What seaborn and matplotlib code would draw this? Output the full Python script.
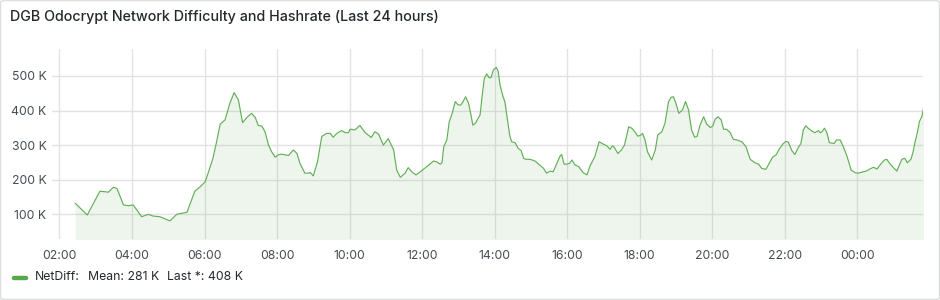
import matplotlib
matplotlib.use("Agg")
import matplotlib.pyplot as plt
import matplotlib.dates as mdates
from matplotlib.patches import FancyBboxPatch
from matplotlib.ticker import FuncFormatter, FixedLocator
import seaborn as sns
import pandas as pd
import numpy as np

title = "DGB Odocrypt Network Difficulty and Hashrate (Last 24 hours)"
series_name = "NetDiff"
legend_mean = "281 K"
legend_last = "408 K"

times = [
    "02:26", "02:46", "03:07", "03:21", "03:29", "03:35", "03:46", "03:54", "04:02", "04:16",
    "04:27", "04:35", "04:46", "05:03", "05:14", "05:31", "05:44", "05:53", "06:01", "06:06",
    "06:14", "06:20", "06:26", "06:34", "06:42", "06:49", "06:56", "07:03", "07:10", "07:18",
    "07:24", "07:29", "07:35", "07:40", "07:46", "07:51", "07:57", "08:02", "08:08", "08:13",
    "08:19", "08:27", "08:33", "08:38", "08:46", "08:52", "08:55", "09:00", "09:07", "09:14",
    "09:22", "09:28", "09:33", "09:39", "09:47", "09:53", "09:58", "10:01", "10:09", "10:17",
    "10:26", "10:36", "10:42", "10:48", "10:56", "11:04", "11:13", "11:18", "11:24", "11:32",
    "11:37", "11:43", "11:50", "11:57", "12:08", "12:19", "12:24", "12:30", "12:33", "12:36",
    "12:41", "12:45", "12:49", "12:55", "13:00", "13:04", "13:08", "13:12", "13:17", "13:21",
    "13:24", "13:28", "13:32", "13:36", "13:40", "13:43", "13:47", "13:51", "13:54", "13:58",
    "14:03", "14:06", "14:09", "14:14", "14:17", "14:21", "14:25", "14:28", "14:34", "14:39",
    "14:44", "14:48", "14:52", "14:59", "15:07", "15:13", "15:21", "15:26", "15:32", "15:37",
    "15:43", "15:48", "15:51", "15:55", "15:59", "16:04", "16:08", "16:13", "16:19", "16:27",
    "16:33", "16:38", "16:46", "16:53", "17:00", "17:06", "17:11", "17:15", "17:18", "17:24",
    "17:30", "17:35", "17:42", "17:47", "17:52", "17:57", "18:01", "18:05", "18:09", "18:13",
    "18:20", "18:26", "18:30", "18:37", "18:42", "18:48", "18:52", "18:56", "19:00", "19:05",
    "19:11", "19:16", "19:21", "19:26", "19:31", "19:35", "19:40", "19:46", "19:51", "19:57",
    "20:01", "20:05", "20:10", "20:15", "20:19", "20:24", "20:30", "20:35", "20:41", "20:49",
    "20:56", "21:03", "21:11", "21:17", "21:22", "21:29", "21:36", "21:40", "21:46", "21:51",
    "21:57", "22:02", "22:06", "22:12", "22:17", "22:23", "22:27", "22:31", "22:35", "22:39",
    "22:45", "22:50", "22:56", "22:59", "23:02", "23:06", "23:10", "23:14", "23:22", "23:26",
    "23:32", "23:36", "23:42", "23:46", "23:50", "23:57", "00:02", "00:08", "00:15", "00:21",
    "00:27", "00:33", "00:38", "00:45", "00:49", "00:55", "01:01", "01:06", "01:10", "01:14",
    "01:19", "01:23", "01:29", "01:32", "01:36", "01:40", "01:43", "01:47", "01:50",
]

netdiff_k = [
    132, 98, 167, 164, 178, 175, 127, 125, 127, 93,
    100, 95, 93, 81, 100, 106, 167, 180, 194, 219,
    262, 310, 361, 373, 421, 452, 431, 365, 380, 392,
    380, 357, 355, 339, 300, 281, 265, 272, 274, 272,
    270, 286, 276, 247, 219, 219, 221, 211, 252, 325,
    334, 334, 323, 334, 342, 336, 336, 346, 344, 357,
    336, 322, 339, 332, 300, 319, 286, 228, 207, 219,
    235, 223, 214, 223, 238, 254, 252, 245, 249, 296,
    315, 368, 387, 426, 416, 416, 426, 440, 421, 387,
    358, 363, 375, 387, 450, 493, 506, 495, 495, 517,
    525, 513, 474, 440, 426, 378, 329, 310, 307, 291,
    284, 262, 259, 259, 254, 245, 233, 219, 225, 223,
    247, 267, 273, 245, 245, 247, 257, 243, 238, 220,
    214, 240, 267, 310, 303, 298, 288, 298, 294, 276,
    286, 300, 353, 349, 339, 326, 328, 334, 315, 281,
    257, 286, 329, 339, 363, 426, 438, 440, 421, 392,
    402, 426, 402, 344, 323, 325, 358, 382, 361, 351,
    355, 375, 382, 373, 346, 346, 336, 317, 315, 310,
    296, 259, 249, 245, 233, 230, 252, 265, 272, 288,
    303, 311, 309, 284, 273, 294, 305, 344, 356, 349,
    341, 336, 342, 336, 339, 349, 336, 307, 305, 315,
    315, 300, 274, 252, 228, 220, 219, 222, 225, 231,
    236, 231, 243, 257, 259, 245, 233, 225, 243, 259,
    262, 249, 259, 276, 310, 339, 368, 382, 408,
]

x_tick_labels = ["02:00", "04:00", "06:00", "08:00", "10:00", "12:00", "14:00",
                 "16:00", "18:00", "20:00", "22:00", "00:00"]
y_ticks_k = [100, 200, 300, 400, 500]

# ---- build timestamps with day rollover ----
base = pd.Timestamp("2024-01-01")


def to_stamps(labels):
    out = []
    day = 0
    prev = None
    for t in labels:
        ts = base + pd.Timedelta(days=day) + pd.to_timedelta(t + ":00")
        if prev is not None and ts < prev:
            day += 1
            ts = ts + pd.Timedelta(days=1)
        out.append(ts)
        prev = ts
    return out


df = pd.DataFrame({"time": to_stamps(times), "value": np.array(netdiff_k) * 1000.0})
tick_stamps = to_stamps(x_tick_labels)

sns.set_theme(style="white")
plt.rcParams["font.family"] = ["Inter", "DejaVu Sans"]

green = "#56A64B"
line_green = "#62AF57"
text_dark = "#24292E"
text_axis = "#464C54"
grid_col = "#E2E2E2"

fig = plt.figure(figsize=(9.4, 3.0), dpi=100)
fig.patch.set_facecolor("white")

ax = fig.add_axes([52 / 940, 1 - 238.7 / 300, (923 - 52) / 940, (238.7 - 49) / 300])
ax.set_facecolor("none")

sns.lineplot(data=df, x="time", y="value", ax=ax, color=line_green, linewidth=0.85,
             estimator=None, legend=False)
ax.fill_between(df["time"], df["value"], 0, color=green, alpha=0.1, linewidth=0)

x0 = base + pd.to_timedelta("01:47:36")
x1 = base + pd.Timedelta(days=1) + pd.to_timedelta("01:49:00")
ax.set_xlim(x0, x1)
ax.set_ylim(29.5e3, 578e3)

ax.xaxis.set_major_locator(FixedLocator(mdates.date2num(tick_stamps)))
ax.xaxis.set_major_formatter(mdates.DateFormatter("%H:%M"))
ax.yaxis.set_major_locator(FixedLocator([v * 1000 for v in y_ticks_k]))
ax.yaxis.set_major_formatter(FuncFormatter(lambda v, p: f"{int(round(v / 1000))} K"))

ax.grid(True, color=grid_col, linewidth=1.0)
ax.set_axisbelow(True)
for s in ax.spines.values():
    s.set_visible(False)
ax.tick_params(axis="both", length=0, labelsize=8.8, colors=text_axis)
ax.tick_params(axis="x", pad=8)
ax.tick_params(axis="y", pad=4)
ax.set_xlabel("")
ax.set_ylabel("")

# panel border (no fill so it never hides the axes)
border = FancyBboxPatch((0.5 / 940, 0.5 / 300), 1 - 1.0 / 940, 1 - 1.0 / 300,
                        boxstyle="round,pad=0,rounding_size=0.006",
                        transform=fig.transFigure, facecolor="none",
                        edgecolor="#DCDDE0", linewidth=1.0, zorder=-1)
fig.patches.append(border)

fig.text(10 / 940, 1 - 17 / 300, title, fontsize=10.3, color=text_dark,
         fontweight="medium", va="center", ha="left")

# legend
fig.add_artist(plt.Line2D([13.5 / 940, 26 / 940], [1 - 278 / 300, 1 - 278 / 300],
                          transform=fig.transFigure, color=green, linewidth=3.2,
                          solid_capstyle="round"))
ly = 1 - 277 / 300
fig.text(35 / 940, ly, f"{series_name}:", fontsize=8.8, color=text_dark, va="center")
fig.text(87.5 / 940, ly, f"Mean: {legend_mean}", fontsize=8.8, color=text_dark, va="center")
fig.text(167 / 940, ly, f"Last *: {legend_last}", fontsize=8.8, color=text_dark, va="center")

fig.savefig("out.png", dpi=100, facecolor="white")
